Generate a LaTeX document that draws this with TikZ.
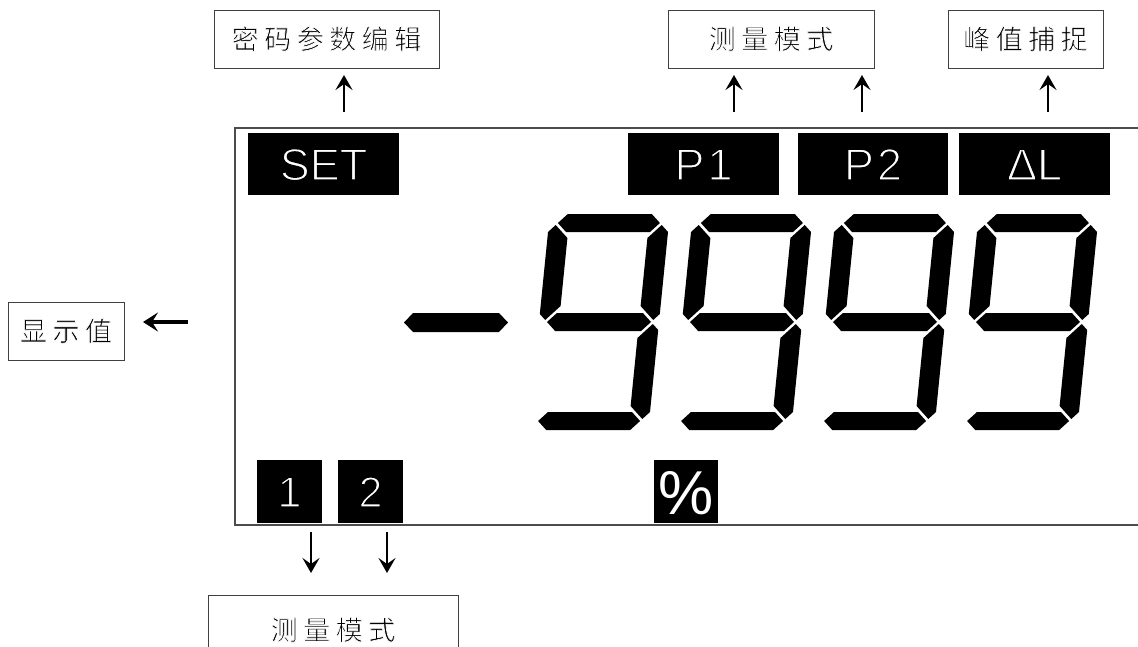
\documentclass[tikz,border=0pt]{standalone}
\usepackage{fontspec}
\setmainfont{Liberation Sans}
\newfontfamily\cjkfont{Noto Sans CJK SC}
\usetikzlibrary{arrows.meta}
\newcommand\cjkgap{\kern5.5pt}
% thin the glyphs by stroking their outline in the background colour
\newcommand\thinonblack[1]{\special{pdf:literal direct 2 Tr 1.3 w 0 G}#1\special{pdf:literal direct 0 Tr}}
\newcommand\thinonwhite[1]{\special{pdf:literal direct 2 Tr 0.7 w 1 G}#1\special{pdf:literal direct 0 Tr 0 G}}
\tikzset{
  lbl/.style={draw=black!75, line width=1pt, inner sep=0pt,
    font=\cjkfont\fontsize{27pt}{30pt}\selectfont, text height=22pt, text depth=2pt},
  blk/.style={fill=black, text=white, inner sep=0pt, draw=none},
  bigtxt/.style={font=\fontsize{45pt}{50pt}\selectfont, text height=32.2pt, text depth=0pt},
  frame/.style={draw=black!70, line width=1.5pt},
  arr/.style={line width=2.6pt, -{Stealth[length=15pt,width=17pt,inset=6pt]}},
  larr/.style={line width=3.8pt, -{Stealth[length=15pt,width=19pt,inset=6pt]}},
  seg/.style={fill=black},
  nine/.pic={
    \begin{scope}[xslant=0.1]
      \fill[seg] (-51,-99) -- (-42,-108) -- (42,-108) -- (51,-99) -- (42,-90) -- (-42,-90) -- cycle;
      \fill[seg] (-52,0) -- (-43,-9) -- (43,-9) -- (52,0) -- (43,9) -- (-43,9) -- cycle;
      \fill[seg] (-51,99) -- (-42,90) -- (42,90) -- (51,99) -- (42,108) -- (-42,108) -- cycle;
      \fill[seg] (-60,-90) -- (-53,-97) -- (-40,-84) -- (-40,-16) -- (-54,-2) -- (-60,-8) -- cycle;
      \fill[seg] (60,-90) -- (53,-97) -- (40,-84) -- (40,-16) -- (54,-2) -- (60,-8) -- cycle;
      \fill[seg] (60,90) -- (53,97) -- (40,84) -- (40,16) -- (54,2) -- (60,8) -- cycle;
    \end{scope}
  }
}
\begin{document}
\begin{tikzpicture}[x=1pt,y=-1pt]
\useasboundingbox (0,0) rectangle (1138,646);
\clip (0,0) rectangle (1138,646);
\fill[white] (0,0) rectangle (1138,646);

% display frame (open on the right)
\draw[frame] (1150,128) -| (235,525) -- (1150,525);

% label boxes
\node[lbl, minimum width=225pt, minimum height=58pt] (pwd) at (326.5,39)
  {\thinonwhite{密\cjkgap 码\cjkgap 参\cjkgap 数\cjkgap 编\cjkgap 辑}};
\node[lbl, minimum width=206pt, minimum height=58pt] (modeA) at (771,39)
  {\thinonwhite{测\cjkgap 量\cjkgap 模\cjkgap 式}};
\node[lbl, minimum width=155pt, minimum height=58pt] (peak) at (1025.5,39)
  {\thinonwhite{峰\cjkgap 值\cjkgap 捕\cjkgap 捉}};
\node[lbl, minimum width=116pt, minimum height=58pt] (disp) at (66,331)
  {\thinonwhite{显\cjkgap 示\cjkgap 值}};
\node[lbl, minimum width=250pt, minimum height=70pt] (modeB) at (333,630)
  {\thinonwhite{测\cjkgap 量\cjkgap 模\cjkgap 式}};

% black indicator boxes
\node[blk, bigtxt, minimum width=151pt, minimum height=62pt] (set) at (323.5,164) {\thinonblack{SET}};
\node[blk, bigtxt, minimum width=151pt, minimum height=62pt] (p1) at (703.5,164) {\thinonblack{P\kern3pt 1}};
\node[blk, bigtxt, minimum width=150pt, minimum height=62pt] (p2) at (873,164) {\thinonblack{P\kern3pt 2}};
\node[blk, bigtxt, minimum width=151pt, minimum height=62pt] (dl) at (1034.5,164) {\thinonblack{ΔL}};
\node[blk, font=\fontsize{43pt}{48pt}\selectfont, text height=30.8pt, text depth=0pt,
  minimum width=65pt, minimum height=63pt] (one) at (289.5,491.5) {\thinonblack{1}};
\node[blk, font=\fontsize{43pt}{48pt}\selectfont, text height=30.8pt, text depth=0pt,
  minimum width=65pt, minimum height=63pt] (two) at (370.5,491.5) {\thinonblack{2}};
\node[blk, font=\fontsize{62pt}{66pt}\selectfont, text height=45pt, text depth=0pt,
  minimum width=64pt, minimum height=63pt] (pct) at (686,491.5) {\%};

% arrows (free, between named coordinates)
\coordinate (a1s) at (344,112); \coordinate (a1e) at (344,75);
\coordinate (a2s) at (734,112); \coordinate (a2e) at (734,75);
\coordinate (a3s) at (862,112); \coordinate (a3e) at (862,75);
\coordinate (a4s) at (1048,112); \coordinate (a4e) at (1048,75);
\coordinate (a5s) at (188,322); \coordinate (a5e) at (143,322);
\coordinate (a6s) at (311,532); \coordinate (a6e) at (311,573);
\coordinate (a7s) at (387,532); \coordinate (a7e) at (387,573);
\draw[arr] (a1s) -- (a1e);
\draw[arr] (a2s) -- (a2e);
\draw[arr] (a3s) -- (a3e);
\draw[arr] (a4s) -- (a4e);
\draw[larr] (a5s) -- (a5e);
\draw[arr] (a6s) -- (a6e);
\draw[arr] (a7s) -- (a7e);

% minus sign
\fill[seg] (404,322.5) -- (413,313) -- (499,313) -- (508,322.5) -- (499,332) -- (413,332) -- cycle;

% digits -9999
\pic at (599,322) {nine};
\pic at (742,322) {nine};
\pic at (885,322) {nine};
\pic at (1028,322) {nine};
\end{tikzpicture}
\end{document}
